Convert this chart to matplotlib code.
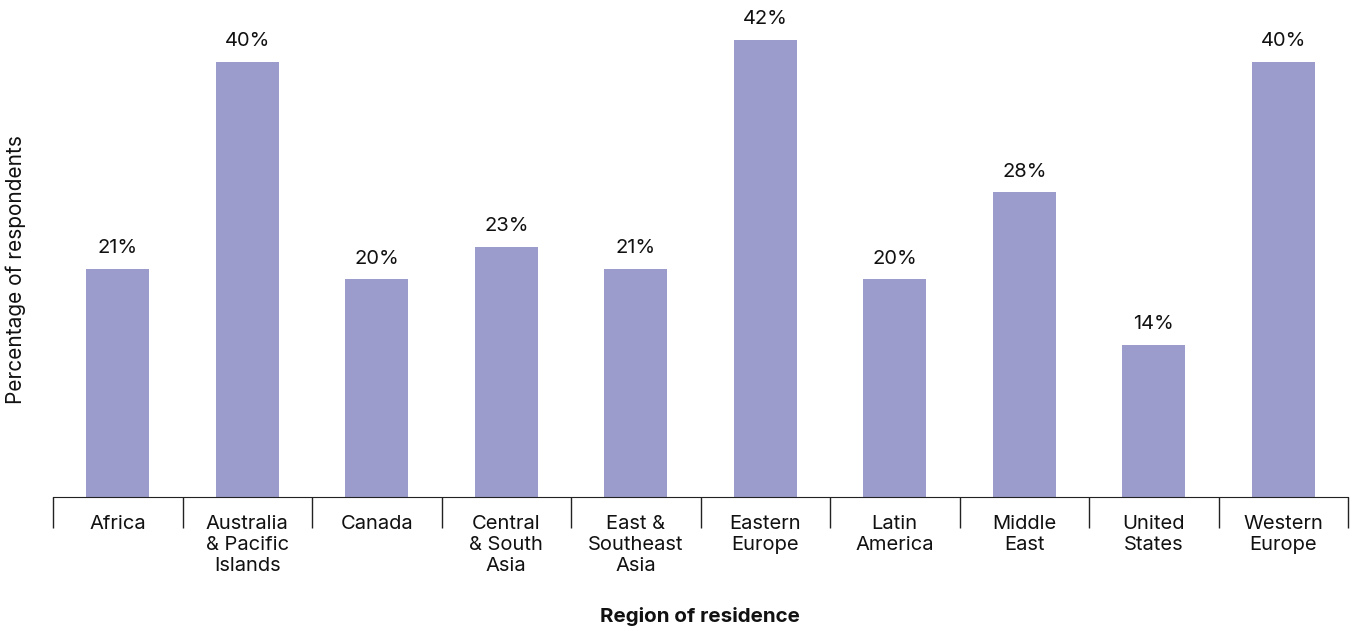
import matplotlib.pyplot as plt
import numpy as np

plt.rcParams['font.family'] = ['Inter', 'DejaVu Sans']

regions = ["Africa", "Australia\n& Pacific\nIslands", "Canada", "Central\n& South\nAsia",
           "East &\nSoutheast\nAsia", "Eastern\nEurope", "Latin\nAmerica", "Middle\nEast",
           "United\nStates", "Western\nEurope"]
values = [21, 40, 20, 23, 21, 42, 20, 28, 14, 40]
bar_color = "#9c9ccc"

fig = plt.figure(figsize=(13.56, 6.31), dpi=100)
ax = fig.add_axes([53 / 1356, 134 / 631, (1348 - 53) / 1356, 497 / 631])

x = np.arange(len(regions))
ax.bar(x, values, width=0.49, color=bar_color)
for xi, v in zip(x, values):
    ax.text(xi, v + 1.1, f"{v}%", ha="center", va="bottom", fontsize=14.5, color="#111111")

ax.set_xlim(-0.5, len(regions) - 0.5)
ax.set_ylim(0, 45.7)
ax.set_yticks([])
ax.set_xticks(x)
ax.set_xticklabels(regions, fontsize=14.5, linespacing=1.2, color="#111111")
ax.tick_params(axis="x", which="major", length=0, pad=13)
ax.set_xticks(np.arange(-0.5, len(regions)), minor=True)
ax.tick_params(axis="x", which="minor", length=22, width=1, color="#222222")
for s in ["top", "right", "left"]:
    ax.spines[s].set_visible(False)
ax.spines["bottom"].set_color("#222222")

fig.text(700 / 1356, 1 - 617 / 631, "Region of residence", ha="center", va="center",
         fontsize=14.8, fontweight="bold", color="#111111")
fig.text(16 / 1356, 1 - 270 / 631, "Percentage of respondents", ha="center", va="center",
         rotation=90, fontsize=15, color="#111111")

fig.savefig("out.png", dpi=100)
